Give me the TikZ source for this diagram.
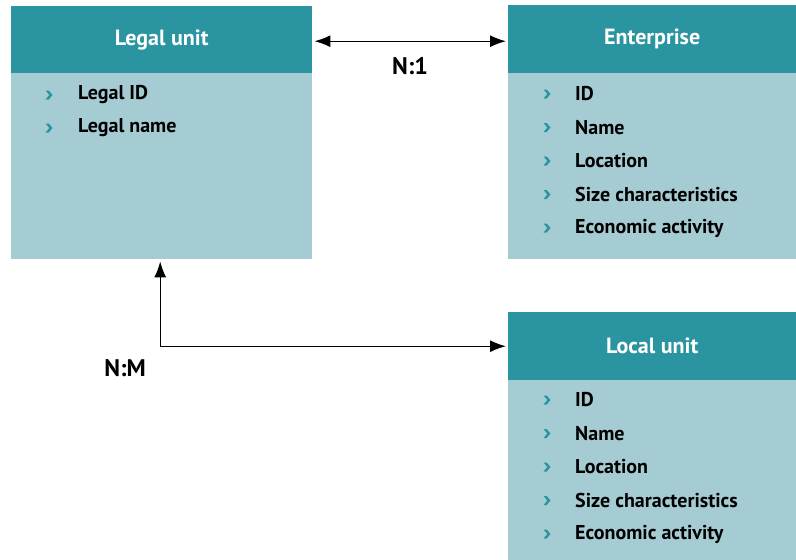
\documentclass[tikz,border=0pt]{standalone}
\usepackage{fontspec}
\setmainfont{PT Sans}
\usetikzlibrary{positioning,arrows.meta}
\definecolor{headteal}{HTML}{2A95A0}
\definecolor{bodyblue}{HTML}{A6CCD3}
\tikzset{
  header/.style={fill=headteal, text=white, anchor=north west, inner sep=0pt,
    minimum height=67pt, font=\bfseries\fontsize{22}{26}\selectfont},
  body/.style={fill=bodyblue, anchor=north west, inner sep=0pt},
  item/.style={anchor=west, inner sep=0pt, font=\bfseries\fontsize{20}{24}\selectfont},
  bul/.style={inner sep=0pt, minimum size=11pt, path picture={
      \fill[headteal] ([shift={(-3.5pt,4.5pt)}]path picture bounding box.center)
        -- ++(3.2pt,0pt) -- ++(3.8pt,-4.5pt) -- ++(-3.8pt,-4.5pt) -- ++(-3.2pt,0pt)
        -- ++(3.8pt,4.5pt) -- cycle;}},
  rel/.style={inner sep=0pt, font=\bfseries\fontsize{24}{28}\selectfont},
  link/.style={{Latex[length=16pt,width=12pt]}-{Latex[length=16pt,width=12pt]},
    line width=1.4pt, shorten <=2pt, shorten >=2pt}
}
\begin{document}
\begin{tikzpicture}[x=1pt, y=-1pt]
  \useasboundingbox (0,0) rectangle (796,560);

  % legal unit
  \node (lbody) at (11,73) [body, minimum width=301pt, minimum height=186pt] {};
  \node (lhead) at (11,6) [header, minimum width=301pt] {Legal unit};
  \node (lb1) at (49,95) [bul] {};
  \node (li1) at (78,95) [item] {Legal ID};
  \node (lb2) at (49,128) [bul] {};
  \node (li2) at (78,128) [item] {Legal name};

  % enterprise
  \node (ebody) at (508,73) [body, minimum width=288pt, minimum height=186pt] {};
  \node (ehead) at (508,5) [header, minimum width=288pt, minimum height=68pt] {Enterprise};
  \foreach \txt [count=\i] in {ID, Name, Location, Size characteristics, Economic activity} {
    \node (eb\i) at (547,{94+33.5*(\i-1)}) [bul] {};
    \node (ei\i) at (575,{94+33.5*(\i-1)}) [item] {\txt};
  }

  % local unit
  \node (ubody) at (508,380) [body, minimum width=288pt, minimum height=180pt] {};
  \node (uhead) at (508,312) [header, minimum width=288pt, minimum height=68pt] {Local unit};
  \foreach \txt [count=\i] in {ID, Name, Location, Size characteristics, Economic activity} {
    \node (ub\i) at (547,{400+33.5*(\i-1)}) [bul] {};
    \node (ui\i) at (575,{400+33.5*(\i-1)}) [item] {\txt};
  }

  % relations
  \draw[link] ([yshift=-1.5pt]lhead.east) -- ([yshift=-1.5pt]lhead.east -| ehead.west);
  \node (n1) at (410,66) [rel] {N:1};
  \draw[link] ([xshift=-1.5pt]lbody.south) |- (uhead.west);
  \node (nm) at (125,368) [rel] {N:M};
\end{tikzpicture}
\end{document}
